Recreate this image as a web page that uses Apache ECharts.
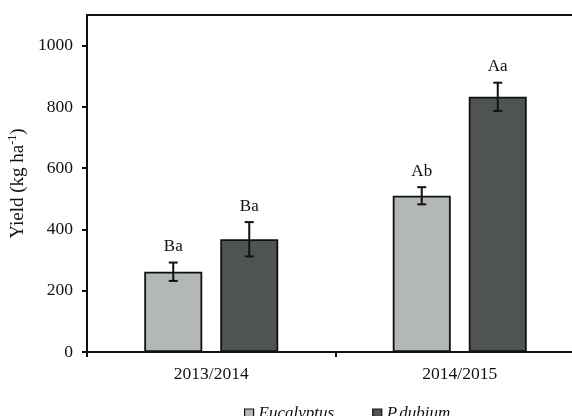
<!DOCTYPE html>
<html>
<head>
<meta charset="utf-8">
<script src="https://cdn.jsdelivr.net/npm/echarts@6/dist/echarts.min.js"></script>
<style>
  html, body { margin: 0; padding: 0; background: #fff; }
  #chart { width: 572px; height: 416px; }
</style>
</head>
<body>
<div id="chart"></div>
<script>
// Seasons on the category axis
const categories = ['2013/2014', '2014/2015'];

// Yield (kg ha-1) per species, with standard errors and significance letters
const eucalyptus = [262, 510];
const eucalyptusErr = [30, 28];
const eucalyptusLetters = ['Ba', 'Ab'];

const pdubium = [368, 833];
const pdubiumErr = [56, 46];
const pdubiumLetters = ['Ba', 'Aa'];

// Y axis tick values
const yTicks = [0, 200, 400, 600, 800, 1000];

const FONT = '"Liberation Serif", "Times New Roman", serif';
const BAR_W = 58;
const BAR_GAP = 18;

const chart = echarts.init(document.getElementById('chart'), null, { renderer: 'canvas' });

function errorSeries(name, values, errs, letters, side) {
  return {
    type: 'custom',
    name: name + ' err',
    z: 5,
    data: values.map((v, i) => [i, v, errs[i], letters[i]]),
    renderItem: function (params, api) {
      const idx = api.value(0);
      const v = api.value(1);
      const e = api.value(2);
      const off = side * (BAR_W + BAR_GAP) / 2;
      const top = api.coord([idx, v + e]);
      const bot = api.coord([idx, v - e]);
      const x = top[0] + off;
      const cap = 4.5;
      const lineStyle = { stroke: '#111', lineWidth: 2 };
      return {
        type: 'group',
        children: [
          { type: 'line', shape: { x1: x, y1: top[1], x2: x, y2: bot[1] }, style: lineStyle },
          { type: 'line', shape: { x1: x - cap, y1: top[1], x2: x + cap, y2: top[1] }, style: lineStyle },
          { type: 'line', shape: { x1: x - cap, y1: bot[1], x2: x + cap, y2: bot[1] }, style: lineStyle },
          {
            type: 'text',
            style: {
              text: letters[params.dataIndex],
              x: x,
              y: top[1] - 16,
              align: 'center',
              verticalAlign: 'middle',
              font: '17px ' + FONT,
              fill: '#111'
            }
          }
        ]
      };
    }
  };
}

const option = {
  animation: false,
  backgroundColor: '#fff',
  grid: {
    left: 87,
    top: 15,
    width: 497,
    bottom: 64,
    outerBoundsMode: 'none',
    show: true,
    borderColor: '#111',
    borderWidth: 2,
    backgroundColor: 'transparent'
  },
  legend: {
    data: ['Eucalyptus', 'P.dubium'],
    left: 239,
    top: 400,
    itemWidth: 9,
    itemHeight: 9,
    itemGap: 38,
    icon: 'rect',
    textStyle: { fontFamily: FONT, fontStyle: 'italic', fontSize: 17, color: '#111' },
    itemStyle: { borderColor: '#111', borderWidth: 1.2 }
  },
  xAxis: {
    type: 'category',
    data: categories,
    axisLine: { lineStyle: { color: '#111', width: 2 } },
    axisTick: { show: true, length: 5, lineStyle: { color: '#111', width: 2 } },
    axisLabel: { fontFamily: FONT, fontSize: 17.5, color: '#111', margin: 13 },
    splitLine: { show: false }
  },
  yAxis: {
    type: 'value',
    min: 0,
    max: 1100,
    interval: 200,
    name: '{a|Yield (kg ha}{s|-1}{a|)}',
    nameLocation: 'middle',
    nameRotate: 90,
    nameGap: 54,
    nameTextStyle: {
      rich: {
        a: { fontFamily: FONT, fontSize: 19, color: '#111' },
        s: { fontFamily: FONT, fontSize: 12, color: '#111', verticalAlign: 'top', padding: [0, 0, 9, 0] }
      }
    },
    axisLine: { show: true, lineStyle: { color: '#111', width: 2 } },
    axisTick: { show: true, length: 5, lineStyle: { color: '#111', width: 2 }, customValues: yTicks },
    axisLabel: {
      fontFamily: FONT, fontSize: 17.5, color: '#111', margin: 14, customValues: yTicks,
      formatter: function (v) { return String(v); }
    },
    splitLine: { show: false }
  },
  series: [
    {
      name: 'Eucalyptus',
      type: 'bar',
      data: eucalyptus,
      barWidth: BAR_W,
      barGap: (BAR_GAP / BAR_W * 100) + '%',
      itemStyle: { color: '#b4b7b7', borderColor: '#111', borderWidth: 1.8 }
    },
    {
      name: 'P.dubium',
      type: 'bar',
      data: pdubium,
      barWidth: BAR_W,
      itemStyle: { color: '#4f5354', borderColor: '#111', borderWidth: 1.8 }
    },
    errorSeries('Eucalyptus', eucalyptus, eucalyptusErr, eucalyptusLetters, -1),
    errorSeries('P.dubium', pdubium, pdubiumErr, pdubiumLetters, 1)
  ]
};

chart.setOption(option);
</script>
</body>
</html>
